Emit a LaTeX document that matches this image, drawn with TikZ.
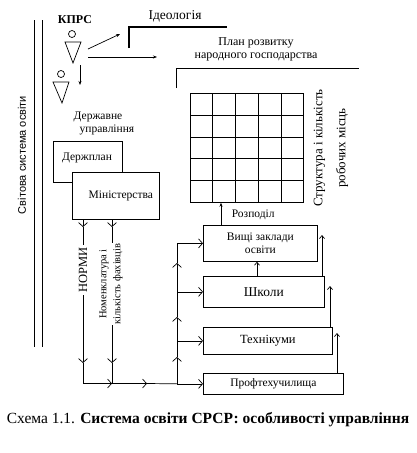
\documentclass[tikz,border=0pt]{standalone}
\usepackage{fontspec}
\setmainfont{Liberation Serif}
\newfontfamily\arialf{Liberation Sans}
\usetikzlibrary{arrows.meta,calc}
\begin{document}
\begin{tikzpicture}[x=1pt,y=-1pt,line width=0.7pt,
  box/.style={draw,fill=white,inner sep=0pt,anchor=north west,align=center,font=\fontsize{11.5}{13}\selectfont},
  lbl/.style={inner sep=0.5pt,align=center,font=\fontsize{11.5}{13}\selectfont},
  chev/.style={-{Straight Barb[length=4pt,width=9pt]}},
  uptip/.style={-{Straight Barb[length=3pt,width=5pt]}},
  tip/.style={-{Stealth[length=4pt,width=3pt]}}]
\path[use as bounding box,fill=white] (0,0) rectangle (416,453);

% world system
\draw (34,20) -- (34,347);
\draw (42,20) -- (42,347);
\node[lbl,rotate=90,font=\arialf\fontsize{11}{13}\selectfont] (sys) at (22,155) {Світова система освіти};

% KPRS and persons
\node[lbl,font=\bfseries\fontsize{12}{14}\selectfont] (kprs) at (75,20) {КПРС};
\draw (72,34) circle (3.5);
\draw (65,42) -- (81,42) -- (73,63) -- cycle;
\draw (61,74) circle (3.5);
\draw (53,82) -- (69,82) -- (62,103) -- cycle;
\coordinate (p1) at (88,49);
\coordinate (p2) at (88,57);
\coordinate (p3) at (80,65);
\coordinate (i1) at (120,34);
\coordinate (h1) at (157,57);
\coordinate (d1) at (80,85);
\draw[tip] (p1) -- (i1);
\draw[tip] (p2) -- (h1);
\draw[tip] (p3) -- (d1);

% ideology
\node[lbl,font=\fontsize{13.5}{15}\selectfont] (ideo) at (175,16) {Ідеологія};
\draw[line width=2.4pt] (129,48) -- (129,27) -- (227,27);

% plan
\node[lbl,font=\fontsize{12}{13}\selectfont] (plan) at (256,49) {План розвитку\\народного господарства};
\draw (176,88) -- (176,68) -- (359,68);

% grid
\node[draw,inner sep=0pt,minimum width=113pt,minimum height=109pt,anchor=north west] (grid) at (190,93) {};
\foreach \f in {0.2,0.4,0.6,0.8}{
  \draw ($(grid.north west)!\f!(grid.north east)$) -- ($(grid.south west)!\f!(grid.south east)$);
  \draw ($(grid.north west)!\f!(grid.south west)$) -- ($(grid.north east)!\f!(grid.south east)$);
}
\node[lbl,rotate=90,font=\fontsize{13}{23}\selectfont] (struct) at (331,148) {Структура і кількість\\робочих місць};

% state management
\node[lbl,align=left] (state) at (104,123) {Державне\\\hspace*{6pt}управління};
\node[box,minimum width=69pt,minimum height=41pt] (gosplan) at (53,141) {};
\node[lbl] (gosplant) at (87,158) {Держплан};
\node[box,minimum width=87pt,minimum height=47pt] (min) at (72,172) {\hspace*{10pt}Міністерства};

% institutions
\node[box,minimum width=114pt,minimum height=36pt] (vz) at (203,225) {Вищі заклади\\освіти};
\node[box,minimum width=121pt,minimum height=31pt,font=\fontsize{13.5}{15}\selectfont] (shk) at (203,276) {Школи};
\node[box,minimum width=129pt,minimum height=27pt,font=\fontsize{12.5}{14}\selectfont] (tech) at (203,327) {Технікуми};
\node[box,minimum width=140pt,minimum height=21pt] (prof) at (203,373) {Профтехучилища};

% distribution
\coordinate (rz) at (221,225);
\draw[tip] (rz) -- (rz |- grid.south);
\node[lbl,anchor=west] (rozp) at (231,215) {Розподіл};

% upward arrows between institutions
\coordinate (s1) at (257,276);
\draw[uptip] (s1) -- (s1 |- vz.south);
\coordinate (s2) at (322,276);
\coordinate (s2e) at (322,235);
\draw[uptip] (s2) -- (s2e);
\coordinate (t1) at (330,327);
\coordinate (t1e) at (330,286);
\draw[uptip] (t1) -- (t1e);
\coordinate (q1) at (337,373);
\coordinate (q1e) at (337,333);
\draw[uptip] (q1) -- (q1e);

% bus
\path (vz.west) ++(-26,0) coordinate (b1);
\path (shk.west) ++(-26,0) coordinate (b2);
\path (tech.west) ++(-26,0) coordinate (b3);
\path (prof.west) ++(-26,0) coordinate (b4);
\coordinate (m1) at (177,357);
\coordinate (m2) at (177,317);
\coordinate (m3) at (177,263);
\draw[chev] (b4) -- (m1);
\draw[chev] (m1) -- (m2);
\draw[chev] (m2) -- (m3);
\draw (m3) -- (b1);
\draw[chev] (b1) -- (vz.west);
\draw[chev] (b2) -- (shk.west);
\draw[chev] (b3) -- (tech.west);
\draw[chev] (b4) -- (prof.west);

% norms line
\coordinate (n0) at (83,219);
\coordinate (n1) at (83,227);
\coordinate (n2) at (83,363);
\coordinate (n3) at (83,383.5);
\coordinate (k0) at (112,219);
\coordinate (k1) at (112,227);
\coordinate (k2) at (112,363);
\coordinate (k3) at (112,383.5);
\coordinate (c1) at (147,383.5);
\draw[chev] (n0) -- (n1);
\draw[chev] (n1) -- (n2);
\draw (n2) -- (n3);
\draw[chev] (k0) -- (k1);
\draw[chev] (k1) -- (k2);
\draw (k2) -- (k3);
\draw[chev] (n3) -- (k3);
\draw[chev] (k3) -- (c1);
\draw (c1) -- (b4);
\node[lbl,rotate=90,fill=white,inner sep=2pt,font=\fontsize{12.5}{14}\selectfont] (norm) at (83,270) {НОРМИ};
\node[lbl,rotate=90,fill=white,inner sep=1pt,font=\fontsize{10.5}{14}\selectfont] (nom) at (111,284) {Номенклатура і\\кількість фахівців};

% caption
\node[lbl,font=\fontsize{15.5}{17}\selectfont] (cap) at (208,420) {Схема 1.1. \textbf{Система освіти СРСР: особливості управління}};
\end{tikzpicture}
\end{document}
